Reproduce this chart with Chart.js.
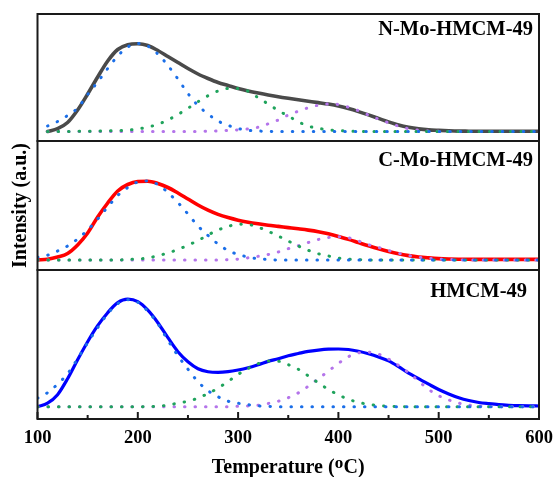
<!DOCTYPE html>
<html>
<head>
<meta charset="utf-8">
<title>TPD deconvolution</title>
<script src="https://cdn.jsdelivr.net/npm/chart.js@4.4.0/dist/chart.umd.min.js"></script>
<style>
  body { margin: 0; background: #fff; }
  #wrap { position: relative; width: 555px; height: 477px; }
  #wrap canvas { position: absolute; left: 0; }
</style>
</head>
<body>
<div id="wrap">
  <canvas id="cTop" width="555" height="150" style="top:0px"></canvas>
  <canvas id="cMid" width="555" height="149" style="top:131px"></canvas>
  <canvas id="cBot" width="555" height="217" style="top:260px"></canvas>
</div>
<script>
// temperature grid (deg C)
const temps = [100, 110, 120, 130, 140, 150, 160, 170, 180, 190,
  200, 210, 220, 230, 240, 250, 260, 270, 280, 290,
  300, 310, 320, 330, 340, 350, 360, 370, 380, 390,
  400, 410, 420, 430, 440, 450, 460, 470, 480, 490,
  500, 510, 520, 530, 540, 550, 560, 570, 580, 590,
  600];
const xTicks = [100, 200, 300, 400, 500, 600];

// N-Mo-HMCM-49
const nMeasured = [null, 0, 2.8, 9, 21.5, 37.5, 54.5, 70.5, 82, 86.8,
  87.8, 86, 81, 75, 69, 63, 57.5, 53, 49, 46,
  43, 40.6, 38.5, 36.6, 34.8, 33.2, 31.7, 30.3, 28.9, 27.4,
  25.5, 22.9, 19.9, 16.6, 13.1, 9.6, 6.5, 4.2, 2.6, 1.6,
  1.1, 0.7, 0.4, 0.3, 0.2, 0.2, 0.2, 0.2, 0.2, 0.2,
  0.2];
const nPeak1 = [null, 5.5, 10, 16, 23.5, 37, 49.5, 63, 75.5, 84.5,
  88, 85.5, 77.5, 66, 52.5, 38, 26, 17.5, 10.5, 6.2,
  3, 1.2, 0.5, 0.2, 0, 0, 0, 0, 0, 0,
  0, 0, 0, 0, 0, 0, 0, 0, 0, 0,
  0, 0, 0, 0, 0, 0, 0, 0, 0, 0,
  0];
const nPeak2 = [null, 0, 0, 0.1, 0.2, 0.3, 0.5, 0.7, 1, 1.3,
  2.6, 4.4, 7.2, 11.5, 17, 23.2, 29.8, 35.8, 40.5, 43,
  43, 40.3, 33.8, 27.5, 21, 15.5, 9.8, 5.4, 3.2, 1.7,
  0.9, 0.4, 0.2, 0, 0, 0, 0, 0, 0, 0,
  0, 0, 0, 0, 0, 0, 0, 0, 0, 0,
  0];
const nPeak3 = [null, 0, 0, 0, 0, 0, 0, 0, 0, 0,
  0, 0, 0, 0, 0, 0, 0, 0.3, 0.6, 1.1,
  1.7, 2.6, 4.3, 7.7, 11.5, 16.5, 20.3, 23.8, 26.3, 27.5,
  27, 24.3, 20.8, 16.5, 12.4, 8.7, 5.3, 2.8, 1.3, 0.5,
  0.2, 0, 0, 0, 0, 0, 0, 0, 0, 0,
  0];

// C-Mo-HMCM-49
const cMeasured = [0, 0.8, 3, 6.5, 15, 27, 43, 57, 69, 75.5,
  78.5, 78.8, 76.5, 72.5, 67, 61, 55, 49.8, 45.6, 42.4,
  39.8, 37.8, 36.2, 34.8, 33.6, 32.4, 31.2, 29.9, 28.3, 26.2,
  23.6, 20.6, 17.4, 14.2, 11.2, 8.5, 6.2, 4.4, 3, 2.1,
  1.4, 1, 0.8, 0.7, 0.6, 0.6, 0.6, 0.6, 0.6, 0.6,
  0.6];
const cPeak1 = [2.5, 4.8, 9, 14, 21, 30, 41, 53, 64.5, 72.5,
  78, 79, 75.5, 67.5, 57.5, 46, 34, 24.5, 16, 9.5,
  5.5, 3, 1.2, 0.5, 0, 0, 0, 0, 0, 0,
  0, 0, 0, 0, 0, 0, 0, 0, 0, 0,
  0, 0, 0, 0, 0, 0, 0, 0, 0, 0,
  0];
const cPeak2 = [0, 0, 0, 0, 0, 0, 0, 0, 0, 0.5,
  1, 2, 4.3, 7, 10.5, 14.8, 19.5, 25, 30, 33.5,
  35.7, 35.5, 32.8, 28.7, 24, 19, 14, 9.7, 6.2, 4,
  2, 0.8, 0.3, 0, 0, 0, 0, 0, 0, 0,
  0, 0, 0, 0, 0, 0, 0, 0, 0, 0,
  0];
const cPeak3 = [0, 0, 0, 0, 0, 0, 0, 0, 0, 0,
  0, 0, 0, 0, 0, 0, 0, 0, 0, 0.3,
  0.9, 2.2, 3.7, 5.5, 8, 11.3, 14.2, 17.5, 20.5, 22.5,
  23.3, 22.3, 19, 15.3, 12.5, 9.5, 6.8, 4.5, 2.8, 1.8,
  1, 0.5, 0.2, 0, 0, 0, 0, 0, 0, 0,
  0];

// HMCM-49
const hMeasured = [0, 3.5, 12, 28, 47, 65, 81, 94, 104, 107.5,
  105, 96.5, 84, 69, 55, 45, 38, 35, 34.3, 35,
  36.7, 39, 42, 45.3, 48, 51, 53.2, 55.3, 56.6, 57.5,
  57.7, 57.2, 55.5, 53, 49.8, 45.8, 40, 33.5, 28, 22.5,
  17.2, 12.8, 9, 6.2, 4.2, 3, 2, 1.4, 1, 0.8,
  0.7];
const hPeak1 = [8.5, 14, 22.5, 33, 48, 64, 79, 93, 103, 107,
  104.5, 95.5, 83, 66.5, 51, 37.5, 25, 16, 10, 5.5,
  3.5, 2, 0.8, 0.3, 0, 0, 0, 0, 0, 0,
  0, 0, 0, 0, 0, 0, 0, 0, 0, 0,
  0, 0, 0, 0, 0, 0, 0, 0, 0, 0,
  0];
const hPeak2 = [0, 0, 0, 0, 0, 0, 0, 0, 0, 0,
  0, 0.2, 0.5, 1.6, 3.6, 5.5, 8.6, 13.2, 18.6, 25.2,
  32.3, 38.2, 43, 45.8, 45.5, 42, 37.5, 30.8, 23.8, 17.3,
  11.8, 7.5, 4.3, 2.5, 1.1, 0.5, 0.2, 0, 0, 0,
  0, 0, 0, 0, 0, 0, 0, 0, 0, 0,
  0];
const hPeak3 = [0, 0, 0, 0, 0, 0, 0, 0, 0, 0,
  0, 0, 0, 0, 0, 0, 0, 0, 0, 0,
  0.4, 0.8, 1.5, 3.2, 5.5, 9, 13.8, 20.5, 28, 35.5,
  43.3, 50, 53.8, 54.5, 52.5, 47.7, 41.3, 34, 25.5, 17.2,
  11, 6.8, 3.6, 1.6, 0.7, 0.3, 0, 0, 0, 0,
  0];

const serif = "'Liberation Serif', 'Times New Roman', serif";
const BLUE_DOT = '#1a6ee8';
const GREEN_DOT = '#1fa35c';
const PURPLE_DOT = '#b474ea';

const points = (ys) => temps.map((t, i) => ({ x: t, y: ys[i] }));

function dotted(ys, color) {
  return {
    data: points(ys),
    borderColor: color,
    borderWidth: 3,
    borderDash: [0.5, 10],
    borderCapStyle: 'round',
    pointRadius: 0,
    cubicInterpolationMode: 'monotone'
  };
}

function solid(ys, color, width) {
  return {
    data: points(ys),
    borderColor: color,
    borderWidth: width,
    borderCapStyle: 'round',
    borderJoinStyle: 'round',
    pointRadius: 0,
    cubicInterpolationMode: 'monotone'
  };
}

// panel box, sample name and inward ticks on the bottom axis
const framePlugin = {
  id: 'frame',
  afterDatasetsDraw(chart, args, opts) {
    const { ctx, chartArea: a } = chart;
    ctx.save();
    ctx.strokeStyle = '#1a1a1a';
    ctx.lineWidth = 2;
    ctx.strokeRect(a.left, a.top, a.right - a.left, a.bottom - a.top);
    if (opts.ticks) {
      const xs = chart.scales.x;
      xs.ticks.forEach(t => {
        const px = xs.getPixelForValue(t.value);
        const len = t.value % 100 === 0 ? 7 : 4;
        ctx.beginPath();
        ctx.moveTo(px, a.bottom);
        ctx.lineTo(px, a.bottom - len);
        ctx.stroke();
      });
    }
    if (opts.label) {
      ctx.fillStyle = '#000';
      ctx.font = 'bold 20.5px ' + serif;
      ctx.textAlign = 'right';
      ctx.textBaseline = 'alphabetic';
      ctx.fillText(opts.label, a.right - opts.dx, a.top + opts.dy);
    }
    ctx.restore();
  }
};

function makePanel(id, datasets, yMin, yMax, frame, extra) {
  const cfg = {
    type: 'line',
    data: { datasets },
    plugins: [framePlugin],
    options: {
      responsive: false,
      animation: false,
      layout: { padding: extra.padding },
      plugins: { legend: { display: false }, tooltip: { enabled: false }, frame },
      scales: {
        x: {
          type: 'linear', min: 100, max: 600,
          display: false
        },
        y: {
          min: yMin, max: yMax,
          display: false
        }
      }
    }
  };
  if (extra.x) Object.assign(cfg.options.scales.x, extra.x);
  if (extra.y) Object.assign(cfg.options.scales.y, extra.y);
  return new Chart(document.getElementById(id), cfg);
}

makePanel('cTop', [
  dotted(nPeak1, BLUE_DOT),
  dotted(nPeak2, GREEN_DOT),
  dotted(nPeak3, PURPLE_DOT),
  solid(nMeasured, '#4a4a4a', 3.6)
], -9.5, 117.5, { label: 'N-Mo-HMCM-49', dx: 6, dy: 20.5 },
  { padding: { top: 14, bottom: 9, left: 37.5, right: 16 } });

makePanel('cMid', [
  dotted(cPeak1, BLUE_DOT),
  dotted(cPeak2, GREEN_DOT),
  dotted(cPeak3, PURPLE_DOT),
  solid(cMeasured, '#ff0000', 3.6)
], -10, 119, { label: 'C-Mo-HMCM-49', dx: 6, dy: 25 },
  {
    padding: { top: 10, bottom: 10, left: 0, right: 16 },
    y: {
      display: true,
      grid: { display: false, drawTicks: false },
      border: { display: false },
      ticks: { display: false },
      title: {
        display: true,
        text: 'Intensity (a.u.)',
        color: '#000',
        font: { family: serif, size: 20, weight: 'bold' },
        padding: { top: 9, bottom: 0 }
      },
      afterFit: (s) => { s.width = 37.5; }
    }
  });

makePanel('cBot', [
  dotted(hPeak1, BLUE_DOT),
  dotted(hPeak2, GREEN_DOT),
  dotted(hPeak3, PURPLE_DOT),
  solid(hMeasured, '#0000ff', 3.2)
], -12.3, 136.7, { label: 'HMCM-49', dx: 12, dy: 27.3, ticks: true },
  {
    padding: { top: 10, bottom: 0, left: 37.5, right: 16 },
    x: {
      display: true,
      grid: { display: false, drawTicks: false },
      border: { display: false },
      ticks: {
        stepSize: 50,
        autoSkip: false,
        maxRotation: 0,
        padding: 8,
        color: '#000',
        font: { family: serif, size: 18.5, weight: 'bold' },
        callback: (v) => xTicks.includes(v) ? String(v) : ''
      },
      title: {
        display: true,
        text: 'Temperature (\u1D3CC)',
        color: '#000',
        font: { family: serif, size: 20, weight: 'bold' },
        padding: { top: 0, bottom: -3 }
      },
      afterFit: (s) => {
        s.height = 58;
        s.paddingLeft = 0;
        s.paddingRight = 0;
      }
    }
  });
</script>
</body>
</html>
